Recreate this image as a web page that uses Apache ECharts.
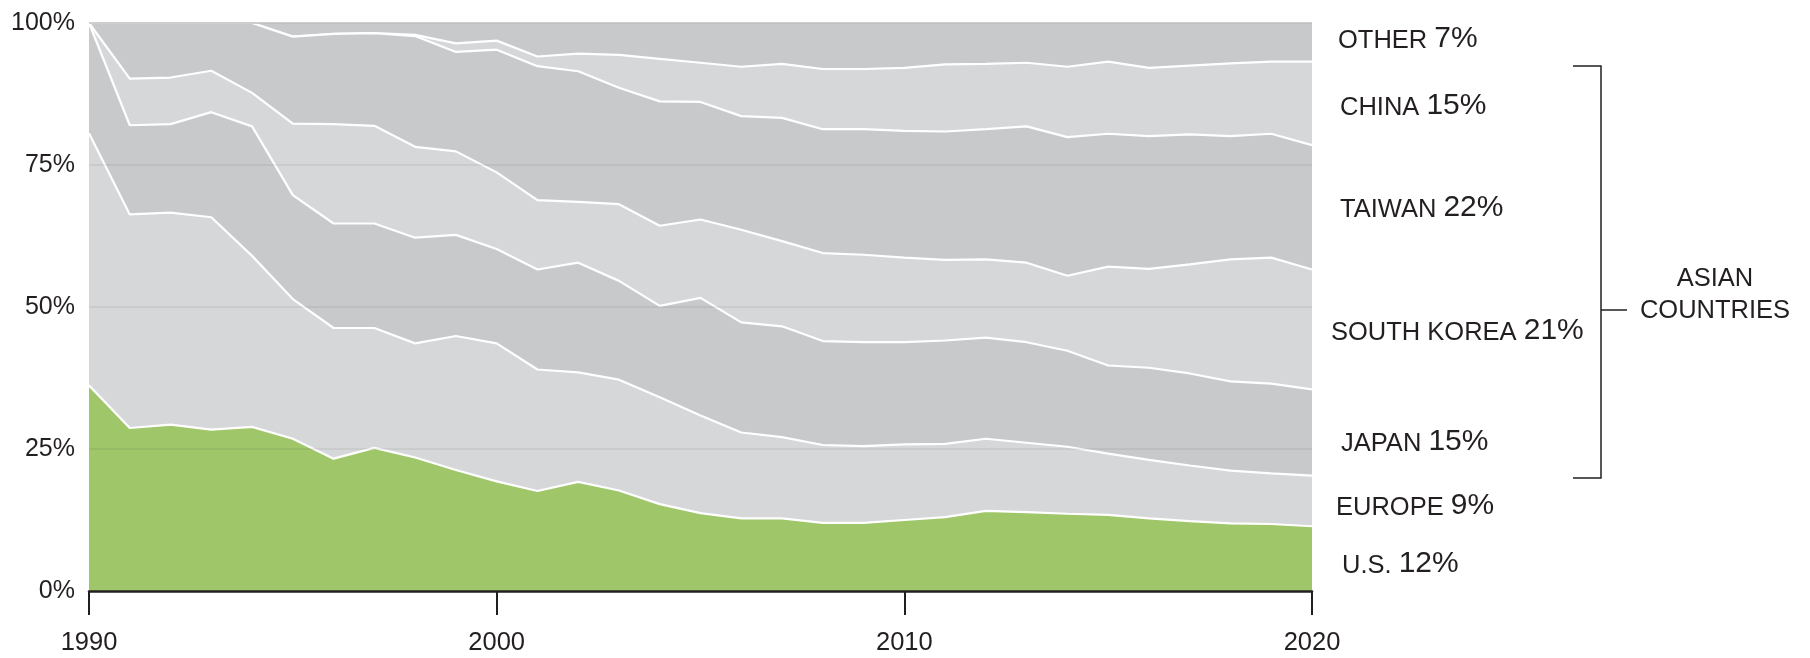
<!DOCTYPE html>
<html><head><meta charset="utf-8">
<script src="https://cdn.jsdelivr.net/npm/echarts@6/dist/echarts.min.js"></script>
<style>html,body{margin:0;padding:0;background:#fff}#c{width:1810px;height:658px}</style>
</head><body><div id="c"></div>
<script>
const years = ['1990','1991','1992','1993','1994','1995','1996','1997','1998','1999','2000','2001','2002','2003','2004','2005','2006','2007','2008','2009','2010','2011','2012','2013','2014','2015','2016','2017','2018','2019','2020'];
const usShare     = [36.2,28.7,29.3,28.4,28.9,26.8,23.3,25.2,23.5,21.3,19.3,17.6,19.2,17.7,15.3,13.7,12.8,12.8,12.0,12.0,12.5,13.0,14.1,13.9,13.6,13.4,12.8,12.3,11.9,11.8,11.4];
const europeShare = [44.4,37.6,37.3,37.4,30.1,24.6,23.0,21.1,20.1,23.6,24.3,21.4,19.3,19.5,18.8,17.2,15.1,14.3,13.7,13.5,13.3,12.9,12.7,12.2,11.8,10.8,10.3,9.8,9.3,8.9,8.9];
const japanShare  = [19.4,15.7,15.6,18.5,22.8,18.3,18.4,18.4,18.6,17.8,16.6,17.6,19.3,17.4,16.1,20.7,19.4,19.5,18.3,18.3,18.0,18.2,17.8,17.7,16.9,15.5,16.2,16.2,15.7,15.8,15.2];
const koreaShare  = [0,8.2,8.2,7.3,5.9,12.6,17.5,17.2,16.0,14.7,13.5,12.2,10.7,13.5,14.1,13.8,16.3,15.0,15.5,15.4,14.9,14.2,13.8,14.0,13.2,17.4,17.4,19.2,21.5,22.2,21.1];
const taiwanShare = [0,9.8,9.6,8.4,12.3,15.3,15.9,16.3,19.5,17.5,21.6,23.6,23.0,20.5,21.9,20.7,20.0,21.7,21.8,22.1,22.3,22.6,22.9,24.0,24.4,23.4,23.4,22.9,21.7,21.8,21.9];
const chinaShare  = [0,0,0,0,0,0,0,0,0.2,1.5,1.6,1.7,3.1,5.8,7.5,6.9,8.7,9.5,10.6,10.6,11.1,11.8,11.5,11.2,12.4,12.7,12.0,12.1,12.8,12.7,14.7];
const otherShare  = [0,0,0,0,0,2.4,1.9,1.8,2.1,3.6,3.1,5.9,5.4,5.6,6.3,7.0,7.7,7.2,8.1,8.1,7.9,7.3,7.2,7.0,7.7,6.8,7.9,7.5,7.1,6.8,6.8];
const seriesNames = ['U.S.','EUROPE','JAPAN','SOUTH KOREA','TAIWAN','CHINA','OTHER'];
const labelPcts   = ['12%','9%','15%','21%','22%','15%','7%'];

const FONT = '"Liberation Sans", Arial, Helvetica, sans-serif';
const INK = '#231F20';
const fills = ['#A0C66A','#D6D7D9','#C8C9CB','#D6D7D9','#C8C9CB','#D6D7D9','#C8C9CB'];
const dataSets = [usShare, europeShare, japanShare, koreaShare, taiwanShare, chinaShare, otherShare];
// label anchor positions (layout)
const labelLayout = [[1342,563],[1336,505],[1341,441],[1331,330],[1340,207],[1340,105],[1338,38]];

const series = dataSets.map((d,i)=>({
  name: seriesNames[i], type:'line', stack:'total', data:d, symbol:'none', smooth:false,
  z: 10 - i,
  lineStyle:{color:'#ffffff', width: i===6 ? 0 : 2.2},
  areaStyle:{color: fills[i], opacity:1}
}));

const graphics = seriesNames.map((n,i)=>({
  type:'text', x: labelLayout[i][0], y: labelLayout[i][1], silent:true,
  style:{
    text:'{n|'+n+'} {p|'+labelPcts[i]+'}',
    fontFamily:FONT, fontSize:25.5, fill:INK, verticalAlign:'middle', align:'left',
    rich:{
      n:{fontFamily:FONT, fontSize:25.5, color:INK, verticalAlign:'bottom', lineHeight:32},
      p:{fontFamily:FONT, fontSize:30, color:INK, verticalAlign:'bottom', lineHeight:32}
    }
  }
}));
graphics.push({type:'polyline', silent:true, shape:{points:[[1573,66],[1601,66],[1601,478],[1573,478]]}, style:{stroke:INK, lineWidth:1.5, fill:null}});
graphics.push({type:'line', silent:true, shape:{x1:1601,y1:310,x2:1627,y2:310}, style:{stroke:INK, lineWidth:1.5}});
graphics.push({type:'text', x:1715, y:295, silent:true, style:{text:'ASIAN\nCOUNTRIES', fontFamily:FONT, fontSize:25.5, lineHeight:32, fill:INK, align:'center', verticalAlign:'middle'}});

const chart = echarts.init(document.getElementById('c'), null, {renderer:'canvas'});
chart.setOption({
  animation:false,
  backgroundColor:'#ffffff',
  grid:{left:89, right:498, top:23, bottom:67, containLabel:false},
  xAxis:{
    type:'category', data:years, boundaryGap:false,
    axisLine:{show:true, lineStyle:{color:INK, width:2.5}},
    axisTick:{show:true, interval:9, length:24, lineStyle:{color:INK, width:2}},
    axisLabel:{interval:9, fontFamily:FONT, fontSize:25.5, color:INK, margin:39},
    splitLine:{show:false}, z:30
  },
  yAxis:{
    type:'value', min:0, max:100, interval:25, z:25,
    axisLine:{show:false}, axisTick:{show:false},
    splitLine:{show:true, lineStyle:{width:1.5, color:['rgba(0,0,0,0)','rgba(0,0,0,0.075)','rgba(0,0,0,0.075)','rgba(0,0,0,0.075)','#BDBEC0']}},
    axisLabel:{formatter:'{value}%', fontFamily:FONT, fontSize:25, color:INK, margin:14}
  },
  series: series,
  graphic: graphics
});
</script></body></html>
